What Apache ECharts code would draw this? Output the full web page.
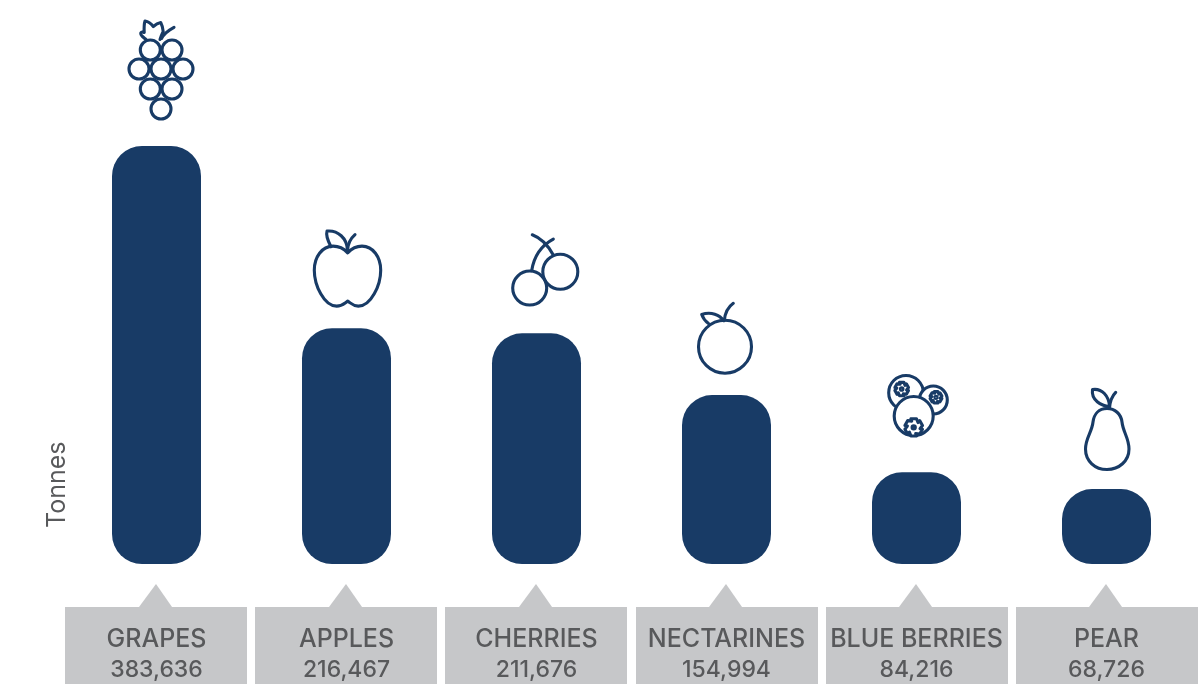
<!DOCTYPE html>
<html>
<head>
<meta charset="utf-8">
<style>html,body{margin:0;padding:0;background:#fff}#chart{width:1204px;height:684px}</style>
<script src="https://cdn.jsdelivr.net/npm/echarts@6/dist/echarts.min.js"></script>
</head>
<body>
<div id="chart"></div>
<script>
// Fruit production in tonnes
const categories = ['GRAPES', 'APPLES', 'CHERRIES', 'NECTARINES', 'BLUE BERRIES', 'PEAR'];
const tonnes = [383636, 216467, 211676, 154994, 84216, 68726];
const axisTitle = 'Tonnes';

const NAVY = '#183b66';
const GREY = '#c6c7c9';
const INK = '#58595b';

const circle = (cx, cy, r) =>
  `M${cx - r},${cy}a${r},${r} 0 1,0 ${2 * r},0a${r},${r} 0 1,0 ${-2 * r},0Z`;

// Six-lobed blossom on a blueberry crown, with its centre dot
function blossom(cx, cy, r) {
  let d = '';
  for (let k = 0; k < 6; k++) {
    const a0 = (k * 60 - 90 - 18) * Math.PI / 180;
    const a1 = (k * 60 - 90 + 18) * Math.PI / 180;
    const a2 = (k * 60 - 90 + 42) * Math.PI / 180;
    const p = (a, q) => `${(cx + q * Math.cos(a)).toFixed(1)},${(cy + q * Math.sin(a)).toFixed(1)}`;
    d += (k ? 'L' : 'M') + p(a0, r) + 'L' + p(a1, r) + 'L' + p(a2, r * 0.72);
  }
  return d + 'Z' + circle(cx, cy, r * 0.18);
}

// Each icon is a list of outlines drawn in its own design space;
// `anchor` is the design-space point that sits on top of the bar.
const icons = [
  { anchor: [156.5, 146], parts: [
    circle(150.3, 50, 10), circle(172, 50, 10),
    circle(139, 69, 10), circle(161, 69, 10), circle(183, 69, 10),
    circle(150.3, 89, 10), circle(172, 89, 10), circle(161, 109, 10),
    'M146,39.5C143,37 140,35 140.8,33C141.5,31.5 143,32 144.2,32.5C144,28 144,24 145,21C148,21.5 151,23.5 153.3,26.5C155.5,24.5 158,23 160.7,22.5C162,25 163,28.5 163.2,31.5C162,34 161,36.5 160,39.5',
    'M161.5,38.5C164,33.5 169,30 174,27.3'
  ]},
  { anchor: [346.5, 328], parts: [
    'M347.7,252.7C352,248 356,246 362,246C373,246 380.7,257 380.7,270C380.7,285 371,306 358.3,306C353,306 351,303 347.7,301C344.5,303 342,306 336.7,306C324,306 314.3,285 314.3,270C314.3,257 322,246 333,246C339,246 343.5,248 347.7,252.7Z',
    'M331,246.5C328,241 325.5,236 327,231C338,230 347,238 347.5,250',
    'M347.5,250C348,243 351,238 355,234.5'
  ]},
  { anchor: [536.5, 333.3], parts: [
    circle(560.3, 271.7, 17.5), circle(529.7, 288, 17),
    'M531.7,270.5C534,256 542,245 553.3,239',
    'M532.3,234.7C541,238 548,245 553.3,255'
  ]},
  { anchor: [726.5, 395.1], parts: [
    circle(725, 346.7, 26.5),
    'M723.5,320.7C720,315 711,311 701.7,314.5C703,318 705,321 708.5,323.5',
    'M724.3,320.7C725,313 728,307 733.3,303.3'
  ]},
  { anchor: [916.5, 472.2], fill: '#fff', parts: [
    circle(906, 392.7, 17.3), blossom(901.7, 389, 7),
    circle(933.3, 400, 14), blossom(936, 397.3, 6),
    circle(913.7, 416, 19.5), blossom(913.7, 427.3, 9)
  ]},
  { anchor: [1106.5, 489.1], parts: [
    'M1107,408.5C1115,408.5 1121,414 1122,422C1123,432 1129,438 1129,449C1129,461 1119,469.5 1107,469.5C1095,469.5 1085.5,461 1085.5,449C1085.5,438 1092,432 1093,422C1094,414 1099,408.5 1107,408.5Z',
    'M1092.5,389.5C1102,388 1109,396 1109.5,406.5C1101,406 1091,400 1092.5,389.5Z',
    'M1109.5,408C1110,401 1112,396 1115.7,392.3'
  ]}
];

const chart = echarts.init(document.getElementById('chart'), null, { renderer: 'canvas' });

chart.setOption({
  animation: false,
  backgroundColor: '#fff',
  grid: { left: 61.5, right: 2.5, top: 146, bottom: 120, containLabel: false },
  xAxis: {
    type: 'category',
    data: categories,
    z: 6,
    axisLine: { show: false },
    axisTick: { show: false },
    axisLabel: {
      interval: 0,
      margin: 60,
      formatter: (name, i) => `{n|${name}}\n{v|${tonnes[i].toLocaleString('en-US')}}`,
      rich: {
        n: { fontFamily: 'Inter', fontSize: 25, fontWeight: 500, color: INK, lineHeight: 31 },
        v: { fontFamily: 'Inter', fontSize: 23, fontWeight: 500, color: INK, lineHeight: 31 }
      }
    }
  },
  yAxis: {
    type: 'value',
    min: 0,
    max: tonnes[0],
    offset: 4,
    name: axisTitle,
    nameLocation: 'start',
    nameRotate: 90,
    nameGap: -36,
    nameTextStyle: {
      fontFamily: 'Inter', fontSize: 25, color: INK,
      align: 'left', verticalAlign: 'middle'
    },
    axisLine: { show: false },
    axisTick: { show: false },
    axisLabel: { show: false },
    splitLine: { show: false }
  },
  series: [
    {
      // Callout plates under each bar; the tick labels sit on top of them
      type: 'custom',
      coordinateSystem: 'cartesian2d',
      clip: false,
      silent: true,
      z: 1,
      data: categories.map((c, i) => [i, 0]),
      encode: { x: 0, y: 1 },
      renderItem(params, api) {
        const i = api.value(0);
        const p = api.coord([i, 0]);
        const cx = Math.round(p[0] - 0.5);
        const top = p[1] + 43;
        const left = cx - 91 + (i >= 3 ? 1 : 0);
        return {
          type: 'group',
          children: [
            { type: 'rect', shape: { x: left, y: top, width: 182, height: 77 },
              style: { fill: GREY } },
            { type: 'polygon', shape: { points: [[cx - 17, top], [cx, top - 23], [cx + 16, top]] },
              style: { fill: GREY } }
          ]
        };
      }
    },
    {
      type: 'bar',
      data: tonnes,
      barWidth: 89,
      clip: false,
      z: 2,
      itemStyle: { color: NAVY, borderRadius: 30 }
    },
    {
      // Fruit pictogram standing over each bar
      type: 'custom',
      coordinateSystem: 'cartesian2d',
      clip: false,
      silent: true,
      z: 3,
      data: tonnes.map((v, i) => [i, v]),
      encode: { x: 0, y: 1 },
      renderItem(params, api) {
        const i = api.value(0);
        const p = api.coord([i, api.value(1)]);
        const icon = icons[i];
        return {
          type: 'group',
          x: p[0] - icon.anchor[0],
          y: p[1] - icon.anchor[1],
          children: icon.parts.map(d => ({
            type: 'path',
            shape: { pathData: d },
            style: {
              fill: icon.fill || 'none',
              stroke: NAVY,
              lineWidth: 3.1,
              lineCap: 'round',
              lineJoin: 'round'
            }
          }))
        };
      }
    }
  ]
});
</script>
</body>
</html>
